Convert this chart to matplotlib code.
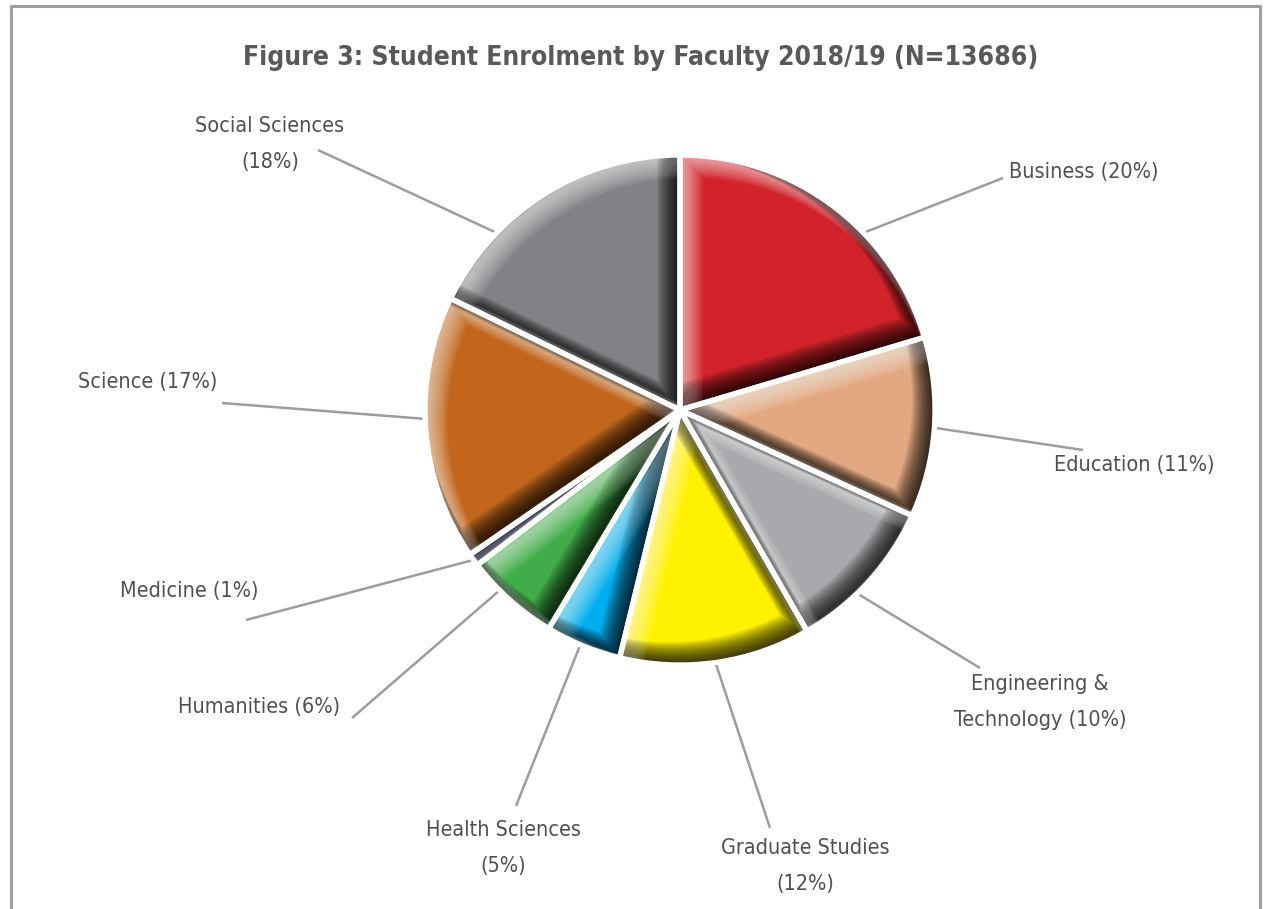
import matplotlib
matplotlib.use("Agg")
import matplotlib.pyplot as plt
import matplotlib.transforms as mtransforms
from matplotlib.patches import Wedge
import numpy as np

# data (share of enrolment, %)
faculties = ["Business", "Education", "Engineering &\nTechnology", "Graduate Studies",
             "Health Sciences", "Humanities", "Medicine", "Science", "Social Sciences"]
shares = [20.4, 11.4, 9.9, 12.1, 4.8, 6.0, 0.8, 16.8, 17.8]
pct_labels = ["(20%)", "(11%)", "(10%)", "(12%)", "(5%)", "(6%)", "(1%)", "(17%)", "(18%)"]
colors = ["#d2232a", "#e2a881", "#a7a9ac", "#fff200", "#00aeef",
          "#40ad48", "#2e3f8f", "#c1661b", "#808285"]

W, H = 1273, 909
plt.rcParams['font.family'] = ['DejaVu Sans']
plt.rcParams['font.stretch'] = 'condensed'
txt_col = "#505052"
line_col = "#9d9d9f"

fig = plt.figure(figsize=(W / 100, H / 100), dpi=100)
ax = fig.add_axes([0, 0, 1, 1])

cx, cy, R = 680, H - 410, 255

wedges, _ = ax.pie(shares, colors=colors, startangle=90, counterclock=False,
                   center=(cx, cy), radius=R, frame=True,
                   wedgeprops=dict(linewidth=0))
ax.set_xlim(0, W)
ax.set_ylim(0, H)
ax.set_aspect('equal')
ax.axis('off')

# bevel look: dark inner shadow on lower-right edges, highlight on upper-left
for w in wedges:
    for L in range(1, 24):
        d = L / 2
        for sx, sy, col, a in [(-d, d, 'black', 0.06), (d, -d, 'white', 0.04)]:
            t = ax.transData + mtransforms.Affine2D().translate(sx, sy)
            sh = Wedge((cx, cy), R, w.theta1, w.theta2, fill=False, ec=col,
                       lw=L * 0.72, alpha=a, transform=t, zorder=3)
            ax.add_patch(sh)
            sh.set_clip_path(w)
    ax.add_patch(Wedge((cx, cy), R, w.theta1, w.theta2, fill=False, ec='white',
                       lw=3.8, zorder=4, joinstyle='miter'))

# label positions (pixel, from top), leader end points and rim angles
label_pos = [(1084, 172), (1134, 465), (1040, 702), (805, 866), (503, 848),
             (259, 707), (189, 591), (148, 382), (270, 144)]
leader_end = [(1003, 178), (1083, 450), (980, 668), (770, 828), (516, 806),
              (352, 718), (246, 620), (222, 403), (318, 150)]
leader_ang = [44, -4, -46, -82, -113, -135, -144, -178, 136]
two_line = [False, False, True, True, True, False, False, False, True]

for name, pct, (lx, ly), (ex, ey), ang, two in zip(faculties, pct_labels, label_pos,
                                                   leader_end, leader_ang, two_line):
    a = np.deg2rad(ang)
    sx, sy = cx + R * np.cos(a), cy + R * np.sin(a)
    ax.plot([sx, ex], [sy, H - ey], color=line_col, lw=1.8, zorder=2,
            solid_capstyle='butt')
    if two and "\n" not in name:
        s = name + "\n" + pct
    else:
        s = name + " " + pct
    ax.text(lx, H - ly, s, ha='center', va='center', fontsize=15.5, color=txt_col,
            linespacing=2.0, zorder=5)

ax.text(641, H - 58, "Figure 3: Student Enrolment by Faculty 2018/19 (N=13686)",
        ha='center', va='center', fontsize=19, fontweight='bold', color="#59595b")

# frame
fc = "#a0a0a2"
ax.plot([11, 11], [0, H - 5], color=fc, lw=2.2, solid_capstyle='butt')
ax.plot([1260, 1260], [0, H - 5], color=fc, lw=2.2, solid_capstyle='butt')
ax.plot([10, 1261], [H - 6, H - 6], color=fc, lw=2.2, solid_capstyle='butt')

fig.savefig("out.png", dpi=100)
